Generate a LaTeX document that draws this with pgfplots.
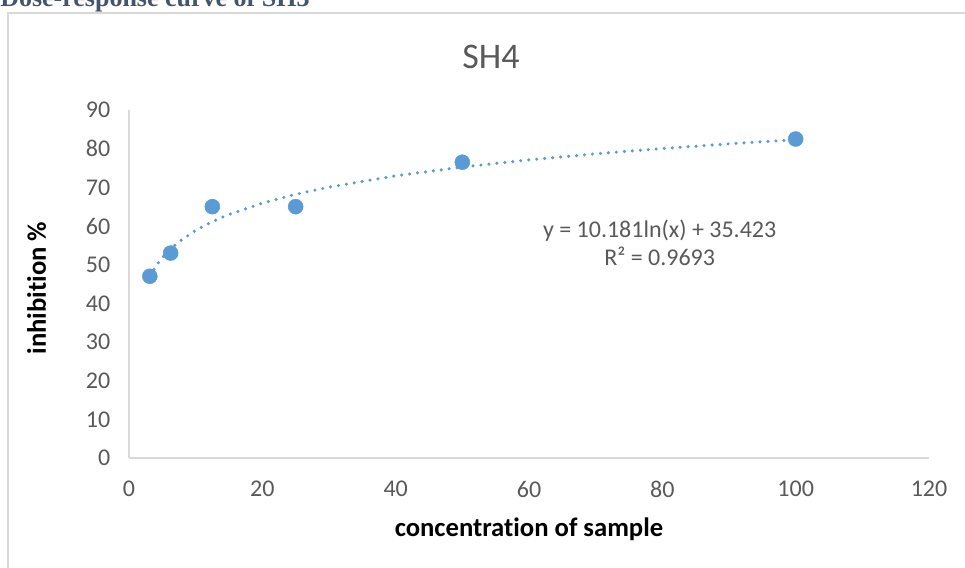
\documentclass[border=0pt]{standalone}
\usepackage{pgfplots}
\pgfplotsset{compat=1.18}
\usepackage{fontspec}
\setmainfont{Carlito}[Ligatures=NoCommon]
\newfontfamily\serifbold{Liberation Serif}
\definecolor{ptblue}{HTML}{5B9BD5}
\definecolor{txtgray}{HTML}{595959}
\definecolor{linegray}{HTML}{D9D9D9}
\definecolor{headblue}{HTML}{44546A}

\begin{document}
\begin{tikzpicture}
\begin{axis}[
    scale only axis,
    width=600pt, height=261pt,
    at={(96.75pt,82.5pt)}, anchor=south west,
    xmin=0, xmax=120, ymin=0, ymax=90,
    xtick={0,20,...,120},
    ytick={0,10,...,90},
    axis x line*=bottom, axis y line*=left,
    axis line style={linegray, line width=1.2pt, -},
    major tick length=0pt,
    /pgf/number format/assume math mode=true,
    tick label style={font=\fontsize{18}{21}\selectfont, text=txtgray},
    yticklabel style={xshift=-10.5pt},
    xticklabel style={yshift=-14pt},
    clip=false,
]
% data points
\addplot[only marks, mark=*, mark size=5.6pt, mark options={draw=ptblue, fill=ptblue}]
coordinates {
    (3.125,47) (6.25,53) (12.5,65) (25,65) (50,76.5) (100,82.5)
};
% logarithmic trendline y = 10.181ln(x) + 35.423
\addplot[ptblue, line width=2.6pt, line cap=round, dash pattern=on 0pt off 6pt]
coordinates {
    (3.125,47.02) (4,49.54) (5,51.81) (6,53.67) (7.5,55.94) (10,58.87)
    (12.5,61.14) (15,62.99) (20,65.92) (25,68.19) (30,70.05) (40,72.98)
    (50,75.25) (60,77.11) (70,78.68) (80,80.04) (90,81.24) (100,82.31)
};
\node[align=center, text=txtgray, font=\fontsize{18}{21}\selectfont]
    at (axis cs:79.6,55.6) {y = 10.181ln(x) + 35.423\\R² = 0.9693};
\end{axis}
% titles and labels
\node[text=txtgray, font=\fontsize{27}{30}\selectfont] at (368.25pt,383.25pt) {SH4};
\node[font=\bfseries\fontsize{20}{23}\selectfont] at (396.75pt,29pt) {concentration of sample};
\node[font=\bfseries\fontsize{20}{23}\selectfont, rotate=90] at (27.5pt,210pt) {inhibition \%};
% chart frame and the heading above it, cut by the page edge
\draw[linegray, line width=1.2pt] (6pt,-10pt) -- (6pt,416.25pt) -- (740pt,416.25pt);
\node[anchor=base west, inner sep=0pt, text=headblue, font=\serifbold\bfseries\fontsize{19.5}{22}\selectfont]
    at (0pt,421.1pt) {Dose-response curve of SH3};
\pgfresetboundingbox
\useasboundingbox (0pt,0pt) rectangle (723.75pt,426pt);
\end{tikzpicture}
\end{document}
